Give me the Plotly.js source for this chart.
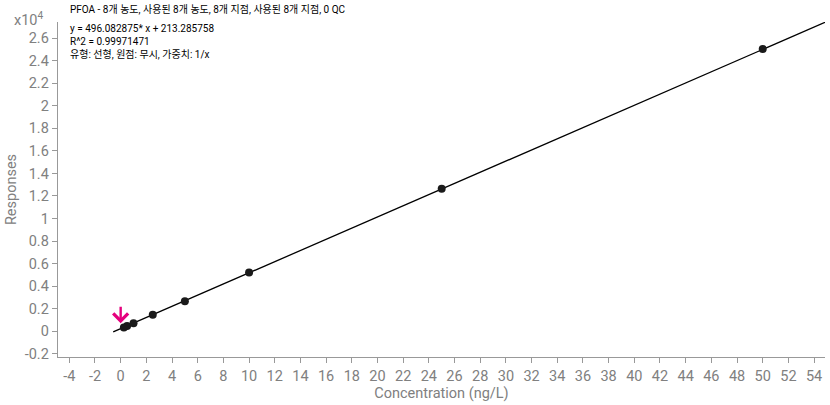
<!DOCTYPE html>
<html><head><meta charset="utf-8">
<script src="https://cdn.plot.ly/plotly-3.0.1.min.js"></script>
<style>html,body{margin:0;padding:0;background:#fff}#chart{width:830px;height:405px}</style>
</head><body><div id="chart"></div>
<script>
// calibration levels (ng/L) and responses
const concentration = [0.25, 0.5, 1, 2.5, 5, 10, 25, 50];
const responses = [330, 460, 700, 1460, 2650, 5200, 12650, 25050];
// fit
const slope = 496.082875;
const intercept = 213.285758;
const fitRange = [-0.58, 54.85];
const yScale = 10000;
// ticks
const xTickVals = [-4,-2,0,2,4,6,8,10,12,14,16,18,20,22,24,26,28,30,32,34,36,38,40,42,44,46,48,50,52,54];
const xTickText = ['-4','-2','0','2','4','6','8','10','12','14','16','18','20','22','24','26','28','30','32','34','36','38','40','42','44','46','48','50','52','54'];
const yTickVals = [-0.2,0,0.2,0.4,0.6,0.8,1,1.2,1.4,1.6,1.8,2,2.2,2.4,2.6];
const yTickText = ['-0.2','0','0.2','0.4','0.6','0.8','1','1.2','1.4','1.6','1.8','2','2.2','2.4','2.6'];
const headerLine = 'PFOA - 8개 농도, 사용된 8개 농도, 8개 지점, 사용된 8개 지점, 0 QC';
const infoLines = ['y = 496.082875* x + 213.285758', 'R^2 = 0.99971471', '유형: 선형, 원점: 무시, 가중치: 1/x'];
const arrowAt = [0.0, 700];

const fitY = fitRange.map(x => (slope * x + intercept) / yScale);
const gray = '#808080';
const tf = {family: 'Roboto, "Noto Sans CJK KR", sans-serif', size: 14.5, color: gray};
const af = {family: 'Roboto, "Noto Sans CJK KR", sans-serif', size: 10, color: '#000'};

const data = [
  {x: fitRange, y: fitY, mode: 'lines', line: {color: '#000', width: 1.3}, hoverinfo: 'skip'},
  {x: concentration, y: responses.map(v => v / yScale), mode: 'markers', marker: {color: '#1a1a1a', size: 8}}
];
const layout = {
  width: 830, height: 405,
  margin: {l: 58, r: 5, t: 22, b: 48},
  showlegend: false,
  paper_bgcolor: '#fff', plot_bgcolor: '#fff',
  xaxis: {range: [-4.88, 54.85], tickvals: xTickVals, ticktext: xTickText, showgrid: false, zeroline: false,
    showline: true, linecolor: '#999', linewidth: 1.3, ticks: 'outside', ticklen: 5, tickcolor: '#999',
    tickfont: tf, title: {text: 'Concentration (ng/L)', font: tf, standoff: 1}},
  yaxis: {range: [-0.23, 2.745], tickvals: yTickVals, ticktext: yTickText, showgrid: false, zeroline: false,
    showline: true, linecolor: '#999', linewidth: 1.3, ticks: 'outside', ticklen: 5, tickcolor: '#999',
    tickfont: tf, title: {text: 'Responses', font: tf, standoff: 4}},
  annotations: [
    {xref: 'paper', yref: 'paper', x: 0, y: 1, xanchor: 'right', yanchor: 'middle', xshift: -12, yshift: 3,
     text: 'x10<sup>4</sup>', showarrow: false, font: tf},
    {xref: 'paper', yref: 'paper', x: 0, y: 1, xanchor: 'left', yanchor: 'middle', xshift: 10, yshift: 13,
     text: headerLine, showarrow: false, font: af},
    {xref: 'paper', yref: 'paper', x: 0, y: 1, xanchor: 'left', yanchor: 'top', align: 'left', xshift: 10, yshift: 1,
     text: infoLines.join('<br>'), showarrow: false, font: af},
    {x: arrowAt[0], y: arrowAt[1] / yScale, xref: 'x', yref: 'y', text: '', showarrow: true,
     arrowhead: 4, arrowsize: 1.2, arrowwidth: 2.4, arrowcolor: '#e5007d', ax: 0, ay: -18}
  ]
};
Plotly.newPlot('chart', data, layout, {displayModeBar: false, staticPlot: true});
</script></body></html>
